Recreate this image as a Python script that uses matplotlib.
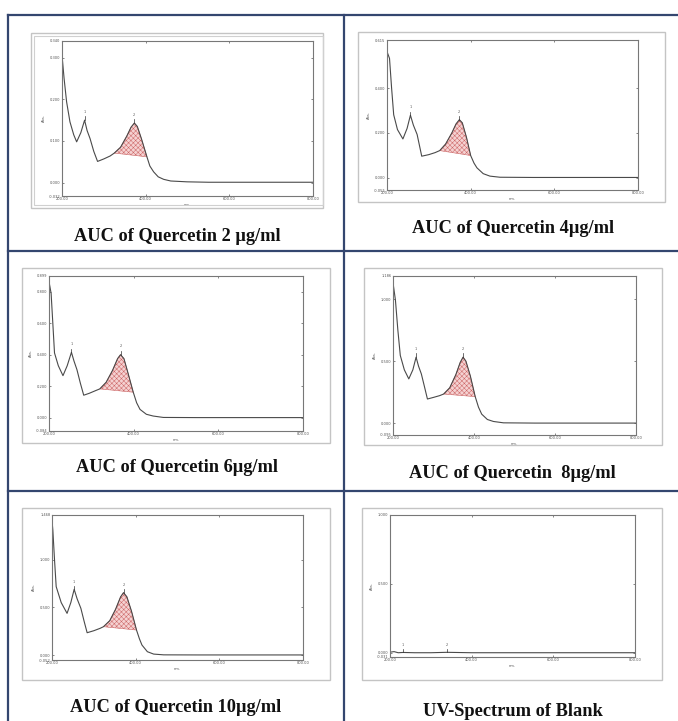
import matplotlib
matplotlib.use('Agg')
import matplotlib.pyplot as plt
import numpy as np
from matplotlib.patches import Rectangle
from matplotlib.lines import Line2D

plt.rcParams['hatch.linewidth'] = 0.35

# ---------------- data ----------------
captions = ["AUC of Quercetin 2 µg/ml", "AUC of Quercetin 4µg/ml",
            "AUC of Quercetin 6µg/ml", "AUC of Quercetin  8µg/ml",
            "AUC of Quercetin 10µg/ml", "UV-Spectrum of Blank"]

x_ticks = [200, 400, 600, 800]
x_tick_labels = ["200.00", "400.00", "600.00", "800.00"]

wl_2 = [200, 205, 211, 219, 228, 235, 245, 254, 260, 267, 276, 285, 300, 315, 325, 340,
        355, 365, 373, 380, 390, 403, 410, 419, 430, 443, 460, 499, 550, 600, 650, 700, 750, 800]
abs_2 = [0.306, 0.250, 0.194, 0.146, 0.115, 0.098, 0.120, 0.150, 0.125, 0.106, 0.075, 0.051,
         0.057, 0.064, 0.071, 0.085, 0.112, 0.133, 0.143, 0.135, 0.105, 0.062, 0.040, 0.026,
         0.014, 0.008, 0.004, 0.002, 0.001, 0.001, 0.001, 0.001, 0.001, 0.001]

wl_4 = [200, 206, 211, 216, 225, 238, 248, 256, 263, 272, 283, 300, 315, 326, 340, 355,
        365, 373, 380, 390, 400, 408, 415, 430, 446, 470, 550, 650, 800]
abs_4 = [0.563, 0.533, 0.400, 0.281, 0.215, 0.173, 0.220, 0.279, 0.235, 0.193, 0.096, 0.103,
         0.112, 0.121, 0.150, 0.200, 0.240, 0.259, 0.245, 0.180, 0.099, 0.065, 0.044, 0.018,
         0.007, 0.002, 0.001, 0.001, 0.001]

wl_6 = [200, 205, 209, 213, 222, 233, 243, 253, 259, 266, 274, 282, 295, 310, 320, 335,
        350, 362, 369, 377, 387, 399, 407, 415, 430, 446, 470, 550, 650, 800]
abs_6 = [0.863, 0.789, 0.600, 0.411, 0.330, 0.267, 0.330, 0.415, 0.360, 0.305, 0.220, 0.143,
         0.155, 0.172, 0.183, 0.225, 0.300, 0.375, 0.400, 0.375, 0.280, 0.162, 0.095, 0.053,
         0.022, 0.011, 0.002, 0.001, 0.001, 0.001]

wl_8 = [200, 206, 212, 218, 228, 239, 249, 257, 263, 270, 278, 285, 300, 315, 325, 340,
        355, 366, 373, 380, 391, 403, 411, 419, 433, 448, 473, 550, 650, 800]
abs_8 = [1.132, 0.992, 0.750, 0.546, 0.430, 0.357, 0.430, 0.532, 0.460, 0.397, 0.290, 0.195,
         0.208, 0.222, 0.235, 0.285, 0.390, 0.490, 0.532, 0.500, 0.380, 0.214, 0.130, 0.073,
         0.030, 0.014, 0.003, 0.001, 0.001, 0.001]

wl_10 = [200, 202, 206, 210, 222, 236, 245, 253, 260, 269, 277, 284, 300, 315, 323, 338,
         352, 364, 371, 379, 390, 402, 409, 415, 428, 443, 467, 550, 650, 800]
abs_10 = [1.409, 1.311, 1.000, 0.717, 0.550, 0.437, 0.550, 0.689, 0.590, 0.490, 0.350, 0.234,
          0.255, 0.280, 0.297, 0.360, 0.480, 0.610, 0.654, 0.610, 0.460, 0.262, 0.170, 0.105,
          0.035, 0.010, 0.002, 0.001, 0.001, 0.001]

wl_blank = [200, 205, 210, 215, 220, 232, 260, 300, 339, 400, 500, 600, 700, 800]
abs_blank = [0.004, 0.006, 0.008, 0.004, 0.000, 0.002, 0.000, 0.000, 0.003, 0.000, 0.000,
             0.000, 0.000, 0.000]

spectra = [(wl_2, abs_2), (wl_4, abs_4), (wl_6, abs_6),
           (wl_8, abs_8), (wl_10, abs_10), (wl_blank, abs_blank)]
auc_ranges = [(325, 403), (326, 400), (320, 399), (325, 403), (323, 402), None]
y_limits = [(-0.032, 0.340), (-0.055, 0.615), (-0.084, 0.899),
            (-0.095, 1.186), (-0.052, 1.468), (-0.031, 1.000)]
y_steps = [0.1, 0.2, 0.2, 0.5, 0.5, 0.5]
peak_marks = [[254, 373], [256, 373], [253, 369], [257, 373], [253, 371], [232, 339]]

# ---------------- layout (pixels) ----------------
W, H = 678, 721
fig = plt.figure(figsize=(W / 100, H / 100), dpi=100)
fig.patch.set_facecolor('white')

def fx(px):
    return px / W

def fy(py):
    return 1 - py / H

axes_px = [(62, 41, 313, 196), (387, 40, 638, 190), (49, 276, 303, 431),
           (393, 276, 636, 435), (52, 515, 303, 660), (390, 515, 635, 657)]
frames_px = [(31, 33, 323, 208), (358, 32, 665, 202), (22, 268, 330, 443),
             (364, 268, 662, 445), (22, 508, 330, 680), (362, 508, 662, 680)]
caption_pos = [(177, 236), (513, 228), (177, 468), (512, 474), (176, 707), (513, 711)]

# table grid
grid_col = '#34466f'
for xx in [8, 344]:
    fig.add_artist(Line2D([fx(xx), fx(xx)], [fy(15), fy(721)], color=grid_col, lw=1.6))
for yy in [15, 251, 491]:
    fig.add_artist(Line2D([fx(8), fx(678)], [fy(yy), fy(yy)], color=grid_col, lw=1.6))

# screenshot frames
for i, (l, t, r, b) in enumerate(frames_px):
    fig.add_artist(Rectangle((fx(l), fy(b)), fx(r - l), (b - t) / H, fill=False,
                             edgecolor='#c4c4c4', lw=1.0))
    if i == 0:
        fig.add_artist(Rectangle((fx(l + 3), fy(b - 3)), fx(r - l - 3), (b - t - 6) / H,
                                 fill=False, edgecolor='#d0d0d0', lw=0.8))

tick_fs = 2.6
for i, ((l, t, r, b), (wl, ab)) in enumerate(zip(axes_px, spectra)):
    ax = fig.add_axes([fx(l), fy(b), fx(r - l), (b - t) / H])
    wl = np.array(wl, dtype=float)
    ab = np.array(ab, dtype=float)
    rng = auc_ranges[i]
    if rng is not None:
        a0 = np.interp(rng[0], wl, ab)
        a1 = np.interp(rng[1], wl, ab)
        inside = (wl > rng[0]) & (wl < rng[1])
        xs = np.concatenate([[rng[0]], wl[inside], [rng[1]]])
        ys = np.concatenate([[a0], ab[inside], [a1]])
        base = a0 + (a1 - a0) * (xs - rng[0]) / (rng[1] - rng[0])
        ax.fill_between(xs, base, ys, facecolor='#f5d2d2', edgecolor='#cc6666',
                        hatch='xxxxxxx', lw=0.4)
    ax.plot(wl, ab, color='#4a4a4a', lw=0.8)
    ymin, ymax = y_limits[i]
    ax.set_xlim(200, 800)
    ax.set_ylim(ymin, ymax)
    step = y_steps[i]
    yt = np.arange(0, ymax - step * 0.3, step)
    ax.set_yticks(list(yt) + [ymin, ymax])
    ax.set_yticklabels([f"{v:.3f}" for v in yt] + [f"{ymin:.3f}", f"{ymax:.3f}"])
    ax.set_xticks(x_ticks)
    ax.set_xticklabels(x_tick_labels)
    ax.tick_params(axis='both', labelsize=tick_fs, length=1.5, width=0.5, pad=1,
                   colors='#555555', direction='in', top=True, right=True)
    for s in ax.spines.values():
        s.set_color('#777777')
        s.set_linewidth(0.8)
    ax.set_ylabel('Abs.', fontsize=tick_fs, labelpad=2, color='#555555')
    ax.set_xlabel('nm.', fontsize=tick_fs, labelpad=1, color='#555555')
    for k, pk in enumerate(peak_marks[i]):
        pv = np.interp(pk, wl, ab)
        off = (ymax - ymin) * 0.04
        ax.plot([pk, pk], [pv, pv + off * 0.6], color='#333333', lw=0.5)
        ax.text(pk, pv + off, str(k + 1), fontsize=2.5,
                ha='center', va='bottom', color='#555555')

for cap, (cx, cy) in zip(captions, caption_pos):
    fig.text(fx(cx), fy(cy), cap, ha='center', va='center', fontsize=13.2,
             fontweight='bold', family='Liberation Serif', color='#111111')

fig.savefig('out.png', dpi=100)
